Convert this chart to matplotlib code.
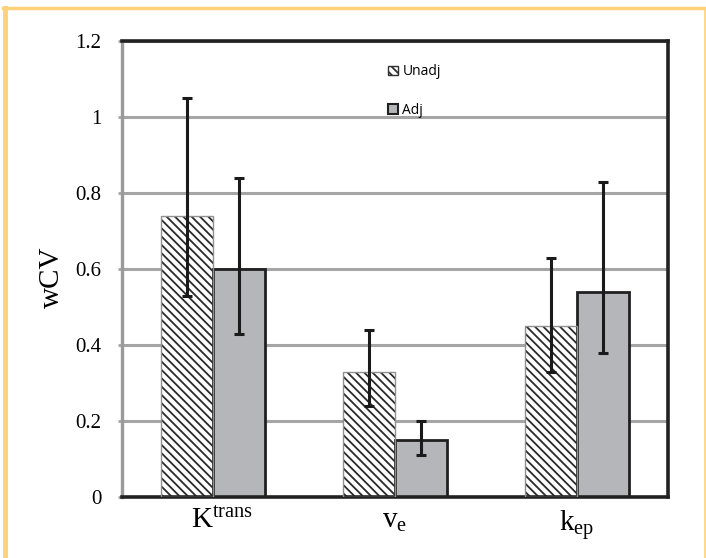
import matplotlib
matplotlib.use("Agg")
import matplotlib.pyplot as plt
import matplotlib.transforms as mtransforms
import numpy as np
from matplotlib.patches import Patch
from matplotlib.lines import Line2D

plt.rcParams['font.family'] = ['Liberation Serif', 'DejaVu Serif']
plt.rcParams['mathtext.fontset'] = 'custom'
plt.rcParams['mathtext.rm'] = 'Liberation Serif'
plt.rcParams['mathtext.it'] = 'Liberation Serif'
plt.rcParams['hatch.linewidth'] = 1.3

categories = [r'K$^{\mathrm{trans}}$', r'v$_{\mathrm{e}}$', r'k$_{\mathrm{ep}}$']
unadj = [0.74, 0.33, 0.45]
unadj_lo = [0.53, 0.24, 0.33]
unadj_hi = [1.05, 0.44, 0.63]
adj = [0.60, 0.15, 0.54]
adj_lo = [0.43, 0.11, 0.38]
adj_hi = [0.84, 0.20, 0.83]
yticks = [0, 0.2, 0.4, 0.6, 0.8, 1.0, 1.2]
yticklabels = ['0', '0.2', '0.4', '0.6', '0.8', '1', '1.2']

fig = plt.figure(figsize=(7.06, 5.58), dpi=100)
ax = fig.add_axes([0.1728, 0.1093, 0.7734, 0.8172])

x = np.arange(len(categories))
w = 0.286
ux = x - w / 2
axx = x + w / 2

ax.set_axisbelow(True)
ax.yaxis.grid(True, color='#a5a5a5', linewidth=2.2)

# Unadj: hatched
ax.bar(ux, unadj, w, color='white', edgecolor='#2a2a2a', hatch='\\\\\\\\', linewidth=0, zorder=2)
ax.bar(ux, unadj, w, fill=False, edgecolor='#909090', linewidth=1.0, zorder=3)
# Adj: gray
ax.bar(axx, adj, w, color='#b5b6ba', edgecolor='#202020', linewidth=2.0, zorder=2)

u = np.array(unadj); a = np.array(adj)
uerr = np.vstack([u - np.array(unadj_lo), np.array(unadj_hi) - u])
aerr = np.vstack([a - np.array(adj_lo), np.array(adj_hi) - a])
ax.errorbar(ux, unadj, yerr=uerr, fmt='none', ecolor='#1a1a1a', elinewidth=2.2, capsize=3.6, capthick=2.2, zorder=4)
ax.errorbar(axx, adj, yerr=aerr, fmt='none', ecolor='#1a1a1a', elinewidth=2.2, capsize=3.6, capthick=2.2, zorder=4)

ax.set_xlim(-0.5, 2.5)
ax.set_ylim(0, 1.2)
ax.set_yticks(yticks)
ax.set_yticklabels(yticklabels, fontsize=15)
ax.set_xticks(x)
xlabels = ax.set_xticklabels(categories, fontsize=21)
ax.tick_params(axis='x', length=0, pad=8)
ax.tick_params(axis='y', length=3, width=2, color='#a5a5a5', pad=12)
ax.set_ylabel('wCV', fontsize=21)
ax.yaxis.set_label_coords(-0.105, 0.482)

# shift first category label slightly right (as in reference)
off = mtransforms.ScaledTranslation(9/100, 0, fig.dpi_scale_trans)
xlabels[0].set_transform(xlabels[0].get_transform() + off)

for s in ['top', 'right', 'bottom']:
    ax.spines[s].set_color('#222222')
    ax.spines[s].set_linewidth(2.6)
ax.spines['left'].set_color('#9a9a9a')
ax.spines['left'].set_linewidth(2.4)

handles = [Patch(facecolor='white', edgecolor='#303030', hatch='\\\\\\\\', linewidth=1.0),
           Patch(facecolor='#b5b6ba', edgecolor='#202020', linewidth=1.5)]
leg = ax.legend(handles, ['Unadj', 'Adj'], loc='center', bbox_to_anchor=(0.536, 0.89),
                frameon=False, handlelength=0.7, handleheight=0.7, handletextpad=0.3,
                labelspacing=1.7, prop={'family': 'Open Sans', 'size': 10})

# orange frame
oc = '#FDD27A'
fig.add_artist(Line2D([5/706, 5/706], [0, 1 - 8/558], color=oc, linewidth=3.5, transform=fig.transFigure))
fig.add_artist(Line2D([3/706, 705/706], [1 - 8/558, 1 - 8/558], color=oc, linewidth=2.5, transform=fig.transFigure))
fig.add_artist(Line2D([704.5/706, 704.5/706], [0, 1 - 8/558], color=oc, linewidth=1.2, transform=fig.transFigure))

fig.savefig('out.png', dpi=100)
